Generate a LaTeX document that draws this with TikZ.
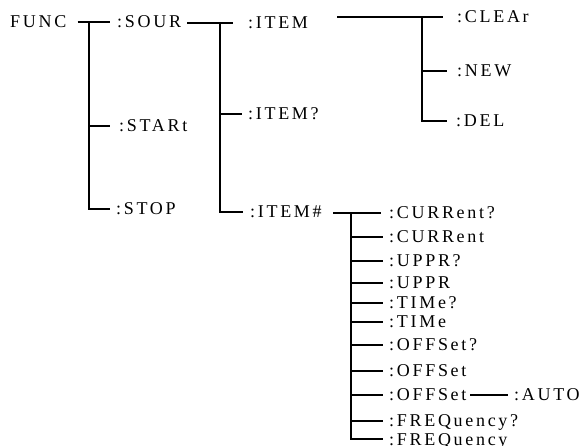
\documentclass[tikz,border=0pt]{standalone}
\usepackage{fontspec}
\setmainfont{Liberation Serif}[LetterSpace=15]
\begin{document}
\begin{tikzpicture}[x=1pt,y=-1pt,
  lbl/.style={anchor=west,inner sep=0pt,text height=12pt,text depth=0pt,font=\fontsize{18}{18}\selectfont},
  wire/.style={line width=1.1pt,draw=black}]
\useasboundingbox[fill=white] (0,0) rectangle (584,446);
% level 0 / 1
\node[lbl] (func)  at (10,22)  {FUNC};
\node[lbl] (sour)  at (117,22) {:SOUR};
\node[lbl] (start) at (119,126) {:STARt};
\node[lbl] (stop)  at (116,209) {:STOP};
% level 2
\node[lbl] (item)  at (248,23)  {:ITEM};
\node[lbl] (itemq) at (248,114) {:ITEM?};
\node[lbl] (itemh) at (250,212) {:ITEM\#};
% level 3 under ITEM
\node[lbl] (clear) at (457,17)  {:CLEAr};
\node[lbl] (new)   at (457,71)  {:NEW};
\node[lbl] (del)   at (456,121) {:DEL};
% level 3 under ITEM#
\node[lbl] (curq)  at (389,213) {:CURRent?};
\node[lbl] (cur)   at (389,237) {:CURRent};
\node[lbl] (uppq)  at (389,261) {:UPPR?};
\node[lbl] (uppr)  at (389,283) {:UPPR};
\node[lbl] (timq)  at (389,303) {:TIMe?};
\node[lbl] (tim)   at (389,322) {:TIMe};
\node[lbl] (offq)  at (389,345) {:OFFSet?};
\node[lbl] (off)   at (389,371) {:OFFSet};
\node[lbl] (offa)  at (389,395) {:OFFSet};
\node[lbl] (freqq) at (389,421) {:FREQuency?};
\node[lbl] (freq)  at (389,439) {:FREQuency};
\node[lbl] (auto)  at (514,395) {:AUTO};
% junctions
\coordinate (jf) at (89,22);
\coordinate (js) at (220,22);
\coordinate (ji) at (422,17);
\coordinate (jh) at (351,213);
% connectors
\draw[wire] ([xshift=11pt]func.east) -- ([xshift=-7pt]sour.west);
\draw[wire] (jf) |- ([xshift=-6pt]stop.west);
\draw[wire] (jf |- start.west) -- ([xshift=-9pt]start.west);
\draw[wire] ([xshift=-61pt]item.west) -- ([xshift=-15pt]item.west);
\draw[wire] (js) |- ([xshift=-7pt]itemh.west);
\draw[wire] (js |- itemq.west) -- ([xshift=-6pt]itemq.west);
\draw[wire] ([xshift=-120pt]clear.west) -- ([xshift=-14pt]clear.west);
\draw[wire] (ji) |- ([xshift=-9pt]del.west);
\draw[wire] (ji |- new.west) -- ([xshift=-10pt]new.west);
\draw[wire] ([xshift=-56pt]curq.west) -- ([xshift=-8pt]curq.west);
\draw[wire] (jh) |- ([xshift=-6pt]freq.west);
\foreach \n in {cur,uppq,uppr,timq,tim,offq,off,offa,freqq}
  \draw[wire] (jh |- \n.west) -- ([xshift=-6pt]\n.west);
\draw[wire] ([xshift=-44pt]auto.west) -- ([xshift=-6pt]auto.west);
\end{tikzpicture}
\end{document}
